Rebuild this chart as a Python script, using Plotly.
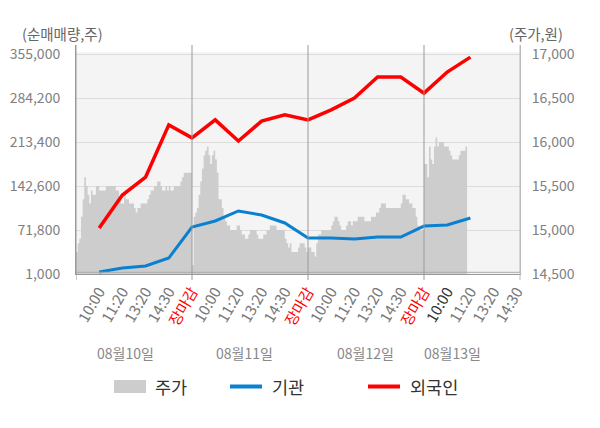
import numpy as np
import plotly.graph_objects as go

# 눈금 / 날짜
day_ticks = ["10:00", "11:20", "13:20", "14:30", "장마감"]
last_day_ticks = ["10:00", "11:20", "13:20", "14:30"]
dates = ["08월10일", "08월11일", "08월12일", "08월13일"]

# 주가 (원), 거래일별
price_d1 = [14750, 14850, 14900, 15150, 15350, 15600, 15500, 15400, 15300, 15450,
            15400, 15400, 15500, 15500, 15450, 15450, 15450, 15450, 15500, 15500,
            15500, 15500, 15500, 15500, 15450, 15450, 15350, 15300, 15300, 15400,
            15350, 15350, 15300, 15300, 15300, 15250, 15200, 15250, 15250, 15300,
            15300, 15300, 15300, 15350, 15400, 15450, 15450, 15500, 15500, 15550,
            15550, 15500, 15450, 15450, 15500, 15450, 15500, 15450, 15450, 15500,
            15500, 15500, 15500, 15550, 15600, 15650, 15650, 15650, 15650, 15650]
price_d2 = [14600, 15150, 15200, 15250, 15400, 15550, 15700, 15850, 15900, 15950,
            15850, 15750, 15850, 15900, 15800, 15650, 15350, 15350, 15250, 15150,
            15100, 15050, 15050, 15000, 15000, 15000, 15000, 15050, 15050, 15000,
            14950, 14950, 14900, 14900, 14950, 15000, 15000, 15000, 15000, 14950,
            14900, 14900, 14900, 14950, 14950, 15000, 15000, 15050, 15050, 15050,
            15050, 15000, 15000, 15000, 15000, 15000, 14900, 14850, 14800, 14850,
            14750, 14750, 14750, 14750, 14800, 14850, 14850, 14850, 14800, 14750]
price_d3 = [14800, 14800, 14750, 14750, 14700, 14850, 14950, 14950, 15000, 15000,
            15000, 15000, 15000, 15000, 15050, 15100, 15150, 15150, 15100, 15050,
            15000, 15000, 15000, 15050, 15100, 15100, 15050, 15100, 15100, 15100,
            15150, 15150, 15150, 15150, 15100, 15100, 15100, 15100, 15150, 15150,
            15150, 15200, 15200, 15250, 15300, 15300, 15300, 15250, 15250, 15250,
            15250, 15250, 15250, 15250, 15250, 15250, 15300, 15400, 15400, 15350,
            15350, 15300, 15300, 15250, 15250, 15150, 15050, 15000, 15000, 15000]
price_d4 = [15750, 15750, 15600, 15950, 15800, 15750, 15950, 16050, 15950, 16000,
            16000, 16000, 15950, 15950, 15950, 15900, 15850, 15800, 15800, 15800,
            15800, 15850, 15900, 15900, 15900, 15950, 16100]

# 순매매량 (주), 각 눈금 시점
inst = [4200, 10700, 13900, 26700, 76600, 86300, 102400, 95900, 83100, 58900,
        58900, 57300, 60500, 60500, 78200, 79800, 91100]
foreign = [75000, 128000, 157000, 241000, 220000, 249000, 215000, 247000, 257000,
           249000, 265000, 284000, 318000, 318000, 292000, 326000, 350000]

left_ticks = [1000, 71800, 142600, 213400, 284200, 355000]
right_ticks = [14500, 15000, 15500, 16000, 16500, 17000]

FONT = "Noto Sans CJK KR"
SAMPLES_PER_DAY = 70
SLOTS_PER_DAY = len(day_ticks)

# plot box in page pixels; the page body adds an 8px offset
PAGE_W, PAGE_H, OFF = 600, 428, 8
L, R, T, B = 76, 520, 45, 274
GRID_PX = 44


def px_x(p):
    return (p - L) / (R - L)


def px_y(p):
    return (B - p) / (B - T)


tick_text = day_ticks * 3 + last_day_ticks
tick_pos = list(range(1, len(tick_text) + 1))
x_end = tick_pos[-1] * (R - L) / (516.8 - L)


def tick_label(i, t):
    if t == "장마감":
        return '<span style="color:#ff0000">%s</span>' % t
    if i == 15:
        return '<span style="color:#333333">%s</span>' % t
    return t


price_x, price_y = [], []
for d, p in enumerate([price_d1, price_d2, price_d3, price_d4]):
    price_x += list(d * SLOTS_PER_DAY + np.arange(len(p)) * SLOTS_PER_DAY / SAMPLES_PER_DAY)
    price_y += p

span = (B - T) / GRID_PX
left_range = [left_ticks[0], left_ticks[0] + span * (left_ticks[1] - left_ticks[0])]
right_range = [right_ticks[0], right_ticks[0] + span * (right_ticks[1] - right_ticks[0])]

fig = go.Figure()
fig.add_trace(go.Scatter(x=price_x, y=price_y, name="주가", mode="lines",
                         line=dict(color="#cdcdcd", width=0, shape="hv"),
                         fill="tozeroy", fillcolor="#cdcdcd", yaxis="y"))
fig.add_trace(go.Scatter(x=tick_pos[:len(inst)], y=inst, name="기관", mode="lines",
                         line=dict(color="#0a80d0", width=3), yaxis="y2"))
fig.add_trace(go.Scatter(x=tick_pos[:len(foreign)], y=foreign, name="외국인", mode="lines",
                         line=dict(color="#ff0000", width=3.5), yaxis="y2"))

shapes = [
    dict(type="rect", xref="paper", yref="paper", x0=0, x1=1, y0=0, y1=px_y(52),
         fillcolor="#f4f4f4", line=dict(width=0), layer="below"),
    dict(type="line", xref="paper", yref="paper", x0=0, x1=1, y0=px_y(272.3), y1=px_y(272.3),
         line=dict(color="#aaaaaa", width=1)),
]
for xb in [0, 5, 10, 15]:
    shapes.append(dict(type="line", xref="x", yref="paper", x0=xb, x1=xb,
                       y0=px_y(280), y1=1, line=dict(color="#999999", width=1)))
shapes.append(dict(type="line", xref="paper", yref="paper", x0=1, x1=1,
                   y0=px_y(280), y1=1, line=dict(color="#bbbbbb", width=1)))

# 범례 (수동)
lg_y = px_y(386.5)
shapes += [
    dict(type="rect", xref="paper", yref="paper", x0=px_x(114), x1=px_x(146),
         y0=px_y(393), y1=px_y(380), fillcolor="#cdcdcd", line=dict(width=0)),
    dict(type="line", xref="paper", yref="paper", x0=px_x(230), x1=px_x(262),
         y0=lg_y, y1=lg_y, line=dict(color="#0a80d0", width=4)),
    dict(type="line", xref="paper", yref="paper", x0=px_x(368), x1=px_x(400),
         y0=lg_y, y1=lg_y, line=dict(color="#ff0000", width=4)),
]

annotations = [
    dict(text="(순매매량,주)", x=px_x(62), y=px_y(33), font=dict(size=14.5, color="#666666")),
    dict(text="(주가,원)", x=px_x(536), y=px_y(33), font=dict(size=14.5, color="#666666")),
]
for name, xp in zip(dates, [125, 244, 365, 452]):
    annotations.append(dict(text=name, x=px_x(xp), y=px_y(353),
                            font=dict(size=14, color="#888888")))
for a in annotations:
    a.update(xanchor="center")
for name, xp in zip(["주가", "기관", "외국인"], [153, 270, 408]):
    annotations.append(dict(text=name, x=px_x(xp), y=lg_y, xanchor="left",
                            font=dict(size=17.5, color="#333333")))
for a in annotations:
    a.update(xref="paper", yref="paper", yanchor="middle", showarrow=False)

fig.update_layout(
    width=PAGE_W - OFF, height=PAGE_H - OFF,
    margin=dict(l=L - OFF, r=PAGE_W - R, t=T - OFF, b=PAGE_H - B,
                pad=0, autoexpand=False),
    paper_bgcolor="white", plot_bgcolor="rgba(0,0,0,0)",
    font=dict(family=FONT, color="#777777"),
    showlegend=False,
    shapes=shapes, annotations=annotations,
    xaxis=dict(range=[0, x_end], tickmode="array", tickvals=tick_pos,
               ticktext=[tick_label(i, t) for i, t in enumerate(tick_text)],
               tickangle=-60, tickfont=dict(size=15, color="#777777"),
               showgrid=False, zeroline=False, showline=True, linecolor="#999999",
               ticks="", ticklabelstandoff=2, automargin=False),
    yaxis=dict(side="right", range=right_range, tickvals=right_ticks, tickformat=",",
               tickfont=dict(size=14, color="#808080"), showgrid=True, gridcolor="#dcdcdc",
               zeroline=False, showline=True, linecolor="#bbbbbb", ticks="",
               ticklabelstandoff=8, automargin=False),
    yaxis2=dict(side="left", overlaying="y", range=left_range, tickvals=left_ticks,
                tickformat=",", tickfont=dict(size=14, color="#808080"), showgrid=False,
                zeroline=False, showline=True, linecolor="#999999", ticks="",
                ticklabelstandoff=12, automargin=False),
)

fig.write_html("out.html")
